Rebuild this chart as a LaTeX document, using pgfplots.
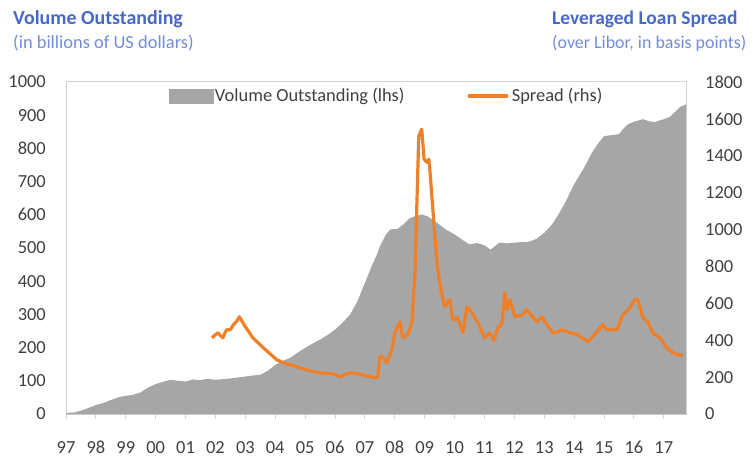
\documentclass[border=0pt]{standalone}
\usepackage{pgfplots}
\pgfplotsset{compat=1.18}
\usepackage{fontspec}
\setmainfont{Carlito}
\definecolor{volgray}{RGB}{166,166,166}
\definecolor{sprorange}{RGB}{240,128,40}
\definecolor{titleblue}{RGB}{70,105,200}
\definecolor{subblue}{RGB}{115,140,215}
\definecolor{ticktext}{RGB}{64,64,64}
\definecolor{framegray}{RGB}{210,210,210}

\pgfplotsset{
  common/.style={
    scale only axis, width=620bp, height=332bp,
    at={(0,0)}, anchor=south west,
    xmin=1997, xmax=2017.74,
    ymin=0,
    tick label style={font=\fontsize{18.5}{20}\selectfont, text=ticktext},
    /pgf/number format/assume math mode=true,
    /pgf/number format/1000 sep={},
  },
}

\begin{document}
\begin{tikzpicture}
\useasboundingbox (-66bp,-43bp) rectangle (688bp,414bp);

% left axis: volume outstanding
\begin{axis}[common,
  ymax=1000, ytick={0,100,...,1000},
  axis line style={framegray, line width=1bp},
  xtick={1997,...,2017},
  xticklabels={97,98,99,00,01,02,03,04,05,06,07,08,09,10,11,12,13,14,15,16,17},
  xtick pos=bottom, tick align=outside, major tick length=5bp,
  xtick style={framegray, line width=1bp},
  ytick style={draw=none},
  xticklabel style={anchor=north, inner sep=0pt, yshift=-22bp},
  yticklabel style={anchor=east, inner sep=0pt, xshift=-15bp},
]
\addplot[fill=volgray, draw=none] coordinates {
(1997.0,3) (1997.3,5) (1997.5,10) (1997.75,18) (1998.0,27) (1998.25,33)
(1998.5,42) (1998.75,50) (1999.0,55) (1999.25,58) (1999.5,65) (1999.75,80)
(2000.0,90) (2000.25,97) (2000.5,103) (2000.75,100) (2001.0,98) (2001.25,104)
(2001.5,102) (2001.75,106) (2002.0,103) (2002.25,105) (2002.5,107) (2002.75,110)
(2003.0,113) (2003.25,116) (2003.5,118) (2003.75,130) (2004.0,148) (2004.25,160)
(2004.5,169) (2004.75,185) (2005.0,199) (2005.25,212) (2005.5,224) (2005.75,238)
(2006.0,254) (2006.25,275) (2006.5,299) (2006.75,340) (2007.0,395) (2007.2,440)
(2007.4,480) (2007.5,505) (2007.7,540) (2007.85,556) (2008.1,558) (2008.3,572)
(2008.5,590) (2008.75,598) (2008.9,601) (2009.1,595) (2009.3,583) (2009.5,570)
(2009.7,556) (2010.0,541) (2010.25,525) (2010.5,511) (2010.75,515) (2011.0,508)
(2011.2,495) (2011.5,516) (2011.75,514) (2012.0,516) (2012.25,518) (2012.5,519)
(2012.75,528) (2013.0,546) (2013.15,560) (2013.3,576) (2013.5,605) (2013.7,637)
(2013.85,665) (2014.0,692) (2014.15,715) (2014.3,737) (2014.45,762) (2014.6,788)
(2014.8,815) (2015.0,837) (2015.25,840) (2015.5,843) (2015.65,860) (2015.8,873)
(2016.0,880) (2016.3,888) (2016.5,882) (2016.7,879) (2016.85,884) (2017.0,888)
(2017.2,895) (2017.4,912) (2017.55,925) (2017.74,933)
} \closedcycle;
\end{axis}

% right axis: spread
\begin{axis}[common,
  ymax=1800, ytick={0,200,...,1800},
  axis x line=none, axis y line*=right,
  axis line style={draw=none},
  ytick style={draw=none},
  yticklabel style={anchor=west, inner sep=0pt, xshift=19bp},
  legend columns=2,
  legend style={at={(0.517,0.958)}, anchor=center, draw=none, fill=none,
    font=\fontsize{18.5}{20}\selectfont, text=ticktext,
    /tikz/every even column/.append style={column sep=60bp}},
]
\addlegendimage{legend image code/.code={
  \fill[volgray] (0bp,-7bp) rectangle (44bp,7bp);}}
\addlegendentry{Volume Outstanding (lhs)}
\addplot[sprorange, line width=3.2bp, line join=round,
  legend image code/.code={\draw[sprorange, line width=3.2bp] (0bp,0bp) -- (40bp,0bp);}]
  coordinates {
(2001.88,413) (2002.0,430) (2002.08,440) (2002.17,425) (2002.25,413) (2002.33,445)
(2002.38,457) (2002.5,457) (2002.6,484) (2002.7,500) (2002.8,527) (2002.9,500)
(2003.0,473) (2003.12,445) (2003.25,413) (2003.4,390) (2003.6,359) (2003.8,330)
(2004.05,294) (2004.25,280) (2004.5,266) (2004.75,255) (2005.05,239) (2005.25,230)
(2005.5,223) (2005.75,220) (2005.93,218) (2006.2,201) (2006.35,215) (2006.5,223)
(2006.7,220) (2006.93,212) (2007.1,205) (2007.33,196) (2007.43,200) (2007.5,310)
(2007.57,310) (2007.73,277) (2007.9,348) (2008.0,440) (2008.17,500) (2008.27,413)
(2008.44,430) (2008.57,500) (2008.67,745) (2008.8,1506) (2008.9,1544) (2008.98,1381)
(2009.07,1365) (2009.14,1381) (2009.17,1327) (2009.4,837) (2009.5,712) (2009.67,582)
(2009.84,620) (2009.94,511) (2010.1,522) (2010.28,440) (2010.41,582) (2010.58,549)
(2010.85,473) (2011.0,413) (2011.18,440) (2011.31,397) (2011.45,468) (2011.58,484)
(2011.68,658) (2011.75,566) (2011.85,620) (2012.02,527) (2012.28,538) (2012.41,566)
(2012.75,500) (2012.92,527) (2013.09,484) (2013.29,440) (2013.45,446) (2013.59,457)
(2013.86,440) (2014.12,430) (2014.46,392) (2014.76,446) (2014.96,484) (2015.09,457)
(2015.43,457) (2015.63,538) (2015.86,576) (2016.03,620) (2016.13,620) (2016.3,522)
(2016.46,500) (2016.63,440) (2016.87,413) (2017.1,359) (2017.3,332) (2017.63,315)
};
\addlegendentry{Spread (rhs)}
\end{axis}

% titles
\node[anchor=base west, inner sep=0pt, text=titleblue, font=\fontsize{20}{22}\selectfont\bfseries]
  at (-53bp,389bp) {Volume Outstanding};
\node[anchor=base west, inner sep=0pt, text=subblue, font=\fontsize{18.5}{21}\selectfont]
  at (-53bp,365bp) {(in billions of US dollars)};
\node[anchor=base west, inner sep=0pt, text=titleblue, font=\fontsize{19.5}{22}\selectfont\bfseries]
  at (486bp,389bp) {Leveraged Loan Spread};
\node[anchor=base west, inner sep=0pt, text=subblue, font=\fontsize{18}{21}\selectfont]
  at (486bp,365bp) {(over Libor, in basis points)};
\end{tikzpicture}
\end{document}
